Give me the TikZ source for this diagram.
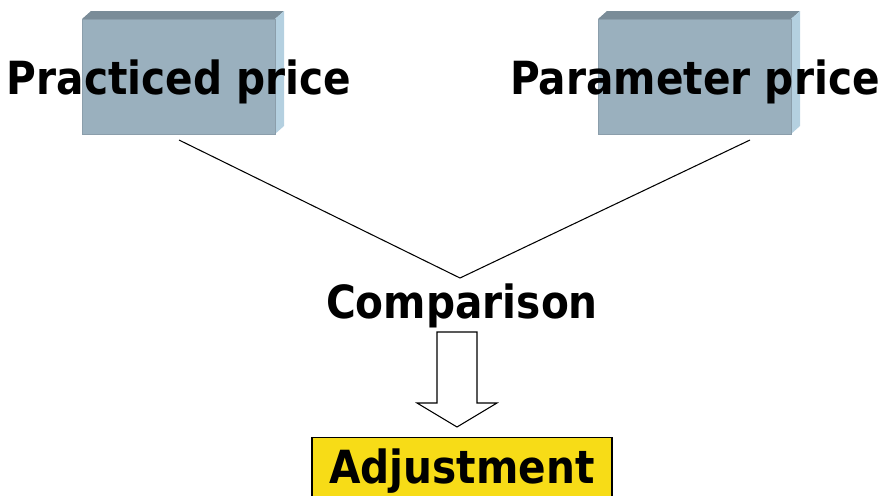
\documentclass[tikz,border=0pt]{standalone}
\usepackage{fontspec}
\setmainfont{DejaVu Sans}
\usepackage{tikz}
\usetikzlibrary{positioning}
\definecolor{boxfront}{HTML}{9AB0BE}
\definecolor{boxtop}{HTML}{7A8C98}
\definecolor{boxside}{HTML}{B4D0E0}
\definecolor{adjyellow}{HTML}{F7DC17}
\newcommand{\narrow}[1]{\scalebox{0.89}[1]{#1}}
\tikzset{pricebox/.style={fill=boxfront, draw=boxfront!90!black, line width=0.3pt,
  minimum width=3.86cm, minimum height=2.3cm, inner sep=0pt}}
\tikzset{bigtext/.style={font=\fontsize{26}{31}\selectfont\bfseries, inner sep=0pt}}

\begin{document}
\begin{tikzpicture}[x=0.02cm,y=-0.02cm]
\useasboundingbox (0,0) rectangle (883,495);
\clip (0,0) rectangle (883,495);
% the two price blocks, with a bit of depth
\foreach \n/\x in {left/82,right/598} {
\fill[boxtop] (\x,19) -- (\x+9,11) -- (\x+202,11) -- (\x+193,19) -- cycle;
\fill[boxside] (\x+193,19) -- (\x+202,11) -- (\x+202,126) -- (\x+193,134) -- cycle;
\node[pricebox, anchor=north west] (\n box) at (\x,19) {};
}
\node[bigtext] (practiced) at (179,82) {\narrow{Practiced price}};
\node[bigtext] (parameter) at (695,82) {\narrow{Parameter price}};
\coordinate (pstart) at (179,140);
\coordinate (qstart) at (750,140);
\coordinate (meet) at (460,278);
\draw[line width=0.6pt] (pstart) -- (meet) -- (qstart);
\node[bigtext] (comparison) at (462,306) {\narrow{Comparison}};
% hollow arrow down
\draw[fill=white, line width=0.6pt] (437,332) -- (477,332) -- (477,403) -- (497,403)
  -- (457,427) -- (417,403) -- (437,403) -- cycle;
\node[fill=adjyellow, draw=black, line width=0.8pt, minimum width=6cm,
  minimum height=1.6cm, anchor=north, inner sep=0pt] (adjust) at (462,437) {};
\node[bigtext] (adjtext) at (462,471) {\narrow{Adjustment}};
\end{tikzpicture}
\end{document}
